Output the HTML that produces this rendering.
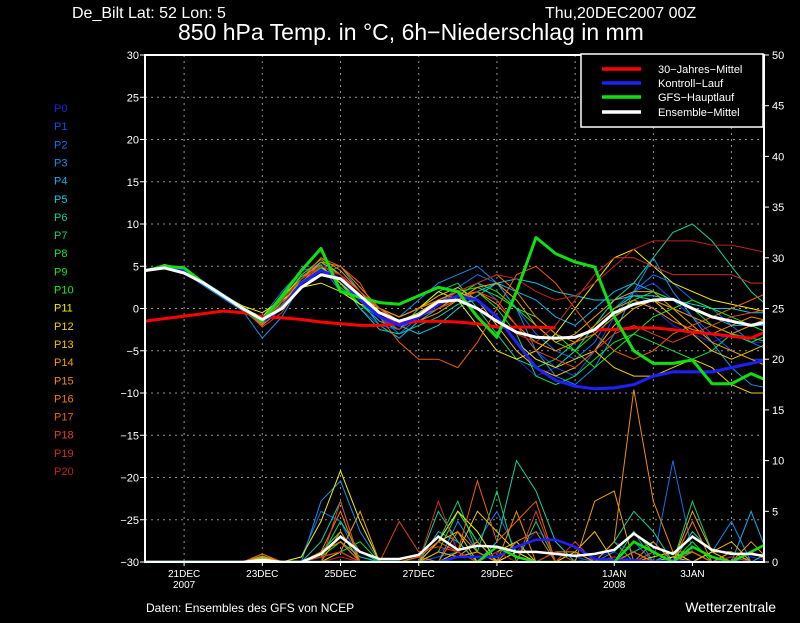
<!DOCTYPE html>
<html><head><meta charset="utf-8">
<style>
html,body{margin:0;padding:0;background:#000;}
body{width:800px;height:618px;overflow:hidden;position:relative;font-family:"Liberation Sans",sans-serif;}
svg text{font-family:"Liberation Sans",sans-serif;}
</style></head>
<body>
<svg id="chart" width="800" height="618" xmlns="http://www.w3.org/2000/svg">
<rect x="0" y="0" width="800" height="618" fill="#000"/>
<text x="72" y="18" fill="#fff" font-size="16">De_Bilt   Lat: 52 Lon: 5</text>
<text x="545" y="18" fill="#fff" font-size="16">Thu,20DEC2007 00Z</text>
<text x="178" y="40" fill="#fff" font-size="23">850 hPa Temp. in °C, 6h−Niederschlag in mm</text>
<g id="grid"></g>
<g id="series"></g>
<g id="axes"></g>
<g id="legend">
<rect x="581" y="54" width="182" height="73" fill="#000" stroke="#fff" stroke-width="1.5"/>
<g><line x1="602" y1="69" x2="641" y2="69" stroke="#ff0000" stroke-width="3.5"/><text x="658" y="73" fill="#fff" font-size="11">30−Jahres−Mittel</text></g>
<g><line x1="602" y1="83" x2="641" y2="83" stroke="#2020ff" stroke-width="3.5"/><text x="658" y="87" fill="#fff" font-size="11">Kontroll−Lauf</text></g>
<g><line x1="602" y1="97" x2="641" y2="97" stroke="#10e010" stroke-width="3.5"/><text x="658" y="101" fill="#fff" font-size="11">GFS−Hauptlauf</text></g>
<g><line x1="602" y1="112" x2="641" y2="112" stroke="#fff" stroke-width="3.5"/><text x="658" y="116" fill="#fff" font-size="11">Ensemble−Mittel</text></g>
</g>
<g id="memberlegend"></g>
<text x="146" y="612" fill="#fff" font-size="12">Daten: Ensembles des GFS von NCEP</text>
<text x="776" y="612" fill="#fff" font-size="14" text-anchor="end">Wetterzentrale</text>
</svg>
<script>
// time in days from 20DEC2007 00Z, 12h steps
const stepDays = 0.5;
const dayTicks = [1,3,5,7,9,12,14];
const dayTickLabels = ["21DEC","23DEC","25DEC","27DEC","29DEC","1JAN","3JAN"];
const dayTickYears = ["2007","","","","","2008",""];
const gridDays = [1,3,5,7,9,11,13,15];
const tempTicks = [-30,-25,-20,-15,-10,-5,0,5,10,15,20,25,30];
const precipTicks = [0,5,10,15,20,25,30,35,40,45,50];
const memberColors = ["#2020e0","#1050f0","#1070f0","#1090f0","#10b0f0","#10c8e0","#10d0a0","#10d070","#10e040","#20e020","#10f010","#f0f000","#f0d000","#f0c000","#f0a000","#f09000","#f08000","#f06000","#e04020","#d03020","#c02020"];

const members = [
[4.5,5,4.4,3,1.4,0,-1.8,0.5,3.5,5,4,1,-1.5,-2,-1,1,1.5,0,-3,-6,-8,-7,-5,-2,1,2,0,-2,-3,-4,-3,-4,-4],
[4.5,5.1,4.6,3.1,1.6,0.1,-2,1,4,5.5,3,0,-2,-2.5,-0.5,1,2,3,1,-2,-5,-7,-8,-5,-1,2,3,1,-1,-3,-5,-6,-6],
[4.5,4.9,4.5,2.8,1.3,-0.2,-1,2,4.5,5,2,0.5,-1,-3,-1,0.5,2.5,4,3,0,-3,-5,-6,-4,0,2,4,3,1,0,-2,-4,-5],
[4.5,5,4.3,2.7,1.2,-0.3,-3.5,-1,3,4,5,2,0,-1,1,3,4,5,3,0,-5,-8,-9,-7,-3,2,6,2,-1,-4,-7,-9,-9.5],
[4.5,5.2,4.7,3.2,1.7,0.2,-1.2,0.5,3,4.5,3.5,1,-2,-3.5,-1.5,0,1,2,3,2,1,-1,-2,0,2,3,2,1,0,-1,-2,-2,-2],
[4.5,5,4.5,3,1.5,0,-1.5,1,3.5,5,4,1.5,-0.5,-2,-3,-2,0,1.5,3,3.5,3,2,1.5,1,1,1.5,1.5,1,0.5,0,0,-0.5,-0.5],
[4.5,5.1,4.6,3,1.4,-0.1,-1.7,0.3,3,4.5,3,0,-2.5,-3,-2,-1,0.5,1,-1,-4,-6,-7,-5,-2,1,3,6,9,10,8,5,2,0],
[4.5,5,4.4,2.9,1.5,0,-1.4,1.2,3.8,5.2,2.5,0.5,-1.5,-2.5,0,2,3,0,-3,-6,-7,-6,-4,-2,0,1.5,1,0,-1,-2,-3,-3.5,-4],
[4.5,5.1,4.5,3.1,1.5,0,-1.6,0.8,3.2,4.8,3.5,1,-1,-2,-1,0,1,2,0,-3,-8,-9,-8,-6,-4,-3,-4,-5,-6,-5,-3,-2,-1],
[4.5,5,4.6,3,1.6,0.1,-1.4,1,4,5.8,4,1,-1,-2,-1,0.5,2,2.5,1.5,0,-2,-4,-5,-3,-1,1,2,1,0,-2,-3,-4,-3],
[4.5,5,4.5,3,1.5,0,-1.5,0.5,3,5,3,0.5,-1,-2,-1,0,1.5,3,2,0,-1,-3,-5,-7,-5,-3,-1,0,1,0,-1,-2,-3],
[4.5,5.2,4.7,3.1,1.6,0.3,-0.5,1,2.5,3,2,0.5,0,-1,0,2,1,-2,-5,-6,-5,-3,0,3,6,7,5,3,2,1,0.5,0,-0.5],
[4.5,5,4.5,3,1.5,0,-1,1.5,3.5,5,3,1,-0.5,-1.5,-0.5,1,2,1,-1,-4,-6,-7,-6,-5,-7,-8,-8,-7,-6,-7,-9,-10,-10],
[4.5,5,4.4,2.9,1.4,-0.1,-1.6,0.5,3,4.5,3.5,1.5,0,-1,0,1.5,2.5,1,-2,-5,-7,-8,-7,-5,-2,0,1,-1,-3,-5,-6,-5,-4],
[4.5,5.1,4.6,3,1.5,0,-1.3,1,3.5,5.5,4,2,-0.5,-2,-1.5,-0.5,1,2.5,3,1,-2,-4,-3,-1,1,2,2,0,-2,-4,-5,-6,-7],
[4.5,5,4.5,3,1.5,0,-1.8,0.5,3.5,6,4.5,2,0,-1.5,-1,0,1.5,2,0.5,-2,-4,-5,-4,-2,0,1,0,-1.5,-2.5,-3,-2,-1,-1.5],
[4.5,5,4.5,2.9,1.4,-0.2,-2,0,3,5.5,5,2.5,0,-1,0,1,2,3,4,2,-1,-3,-4,-3,-1,0.5,1,0,-1,-2,-3,-2,-1],
[4.5,5,4.5,3,1.5,0,-1.5,1,3.5,6,5,3,-1,-4,-6,-6,-7,-4,0,4,5,3,0,-3,-5,-6,-5,-3,-2,-1,0,1,2],
[4.5,5.1,4.6,3,1.5,0,-2.2,-0.5,3,5,4,2,0,-2,-1,0,1,2,1,-2,-5,-6,-7,-5,-3,-2,-3,-4,-3,-2,-1,-0.5,0],
[4.5,5,4.5,3,1.5,0,-1.5,1,3.5,5,4,1.5,-1,-2.5,-1,0.5,1.5,1,-1,-3,-4,-2,1,4,6,6,5,4,4,4,4,3,3],
[4.5,5,4.5,3,1.5,0,-1.5,0.5,3,4.5,4,1.5,-0.5,-2,-1,0.5,2,3,4,3.5,2,1,1.5,3,5,7,8,8,8,7.5,7.5,7,6.5]
];
const controlRun = [4.5,5,4.5,3,1.5,0,-1.5,0,3,4.5,3.5,1,-1,-2,-1,0.5,1.5,1,-1,-4,-7,-8.5,-9.2,-9.5,-9.4,-9,-8,-7.5,-7.5,-7.5,-7,-6.5,-6];
const gfsRun = [4.5,5,4.8,3,1.5,0,-1.5,1.5,4.5,7.1,2,1.3,0.7,0.5,1.5,2.5,2,-1,-3.4,2,8.4,6.5,5.5,4.9,-1,-5,-6.5,-6.5,-6.1,-8.9,-8.9,-7.7,-8.7];
const ensMean = [4.5,4.8,4.2,3,1.5,0,-1.3,0,2.5,4,3.5,1.5,-0.5,-1.5,-0.8,0.8,1,0,-1.5,-2.8,-3.4,-3.5,-3.4,-2.5,-0.5,0.5,1,1.1,0,-1,-1.5,-2,-1.5];
const climate = [-1.5,-1.2,-0.9,-0.6,-0.3,-0.5,-1,-1.1,-1.3,-1.6,-1.8,-2,-2,-1.8,-1.5,-1.5,-1.6,-1.8,-2.2,-2.2,-2.2,-2.3,null,-2.5,-2.5,-2.3,-2.3,-2.5,-2.8,-3,-3.3,-3.5,-2.5];

const memberPrecip = [
[0,0,0,0,0,0,0,0,0,0.5,1,0,0,0,0,1,2,0,0,1,3,2,0,0.5,1,0,0,0.5,0,0,0,0.5,0],
[0,0,0,0,0,0,0.5,0,0,1,3,0,0,0,0,0.5,1,2,0,0,0,1,0.5,0,2,1,0,1,0,0,0.5,0,0],
[0,0,0,0,0,0,0,0,0.5,5,4,0,0,0,0,2,5,2,5,1,0,0,0,0,0,2,0,10,1,0,0,0,0],
[0,0,0,0,0,0,0.8,0,0,6,8,3,0,0,0,0,4,1,0,0,0,0,0,0,1,3,0,0,0,1,4,0,0],
[0,0,0,0,0,0,0.3,0,0,0.5,1,0,0,0,0,1,0.5,1,0,0,0,0,0,0,0,0,0,1,0,0,0,5,0],
[0,0,0,0,0,0,0,0,0,1,2,0.5,0,0,0,3,2,0,0,0,0,1,0,0,0,0,0,0.5,1,0,0,0,0],
[0,0,0,0,0,0,0,0,0,2,6,0,0,0,0,5,2,0,2,10,7,2,0,0,2,5,3,0,3,1,0,0,1],
[0,0,0,0,0,0,0.5,0,0,0.5,4,1,0,0,0,2,6,1,7,0,4,0,0,0,0,1,2,0,6,1,0,0,0],
[0,0,0,0,0,0,0,0,0,1,3,0,0,0,0,0,1,0,0,0,0,0,1,0,2,0,1,0,0,0,0,0,0],
[0,0,0,0,0,0,0,0,0,0,1,2,0,0,0,1,5,2,0,0,0,0,0,0,0,3,1,0,1,0,0,0,0],
[0,0,0,0,0,0,0.3,0,0,0.5,2,0,0,0,0,0,0.5,1,0,0,0,0,0,0,0,1,0,0,2,0,0,0,0],
[0,0,0,0,0,0,0,0,0.5,4,9,4,0,0,0.5,2,5,3,0,1,0,0,0,0,0,0,0,0.5,0,1,1,0,0],
[0,0,0,0,0,0,0,0,0,0,1,0,0,0,0,2,3,0,1,2,0,0,0,0,0,0,0.5,1,0,0,1,0,0],
[0,0,0,0,0,0,0.4,0,0,1,2,0,0,0,0,0,1,5,3,1,0,0,1,3,0,1,0,0,0,1,2,0,0],
[0,0,0,0,0,0,0,0,0,0.5,1,5,0,0,0,1,0.5,2,0,0,0,0,0,6,7,0,1,0,5,1,0,2,0],
[0,0,0,0,0,0,0.6,0,0,0,3,0,0,0,0,0,0.5,1,0,5,0,1,1,0,2,17,6,1,1,0,1,0,0],
[0,0,0,0,0,0,0,0,0,1,5,0,0,0,0.5,0,3,1,0,2,3,0,0,0,0,0,2,0,4,0,0,1,0],
[0,0,0,0,0,0,0.8,0,0,1,2,0,0,0,0.5,2,1,8,2,4,6,0,0,0,0,1,0,0,1,0,0,0,0],
[0,0,0,0,0,0,0,0,0,0,6,0,0,4,1,1.5,1,0,0,0,5,0,2,0,0,0,1,0,0,0,0,0,0],
[0,0,0,0,0,0,0,0,0,0.5,1,0,0,0,0,6,1,0,0,0,0,1,0,0,0.5,0,0,0,0,0,0.5,0,0],
[0,0,0,0,0,0,0,0,0,0,0.5,0,0,0,0,0,0,0,1,0,0,0,0,0,0,0,0,0,0,0,0,0,0]
];
const controlPrecip = [0,0,0,0,0,0,0,0,0,0,0,0,0,0,0,0,0.5,0.5,0.5,1.5,2.2,2.2,1.5,0.3,0.2,0.2,0,0.2,0,0,0,0,0];
const gfsPrecip = [0,0,0,0,0,0,0.2,0,0,0,0,0,0,0,0,0,0,0,1.5,0.5,0,0,0,0,0,2,1,0,1.5,0.5,0,1,2];
const meanPrecip = [0,0,0,0,0,0,0.2,0,0,0.8,2.5,1,0.3,0.3,0.7,2.5,1.2,1.6,1.5,1,1,0.8,0.6,0.8,1.2,2.8,1.5,0.8,2.5,1.2,0.8,0.8,0.5];

const X0 = 145, X1 = 764, Y0 = 55, Y1 = 562;
const dayMax = 15.83;
function xs(d){ return X0 + d/dayMax*(X1-X0); }
function yt(v){ return Y1 - (v+30)/60*(Y1-Y0); }
function yp(v){ return Y1 - v/50*(Y1-Y0); }
const NS = "http://www.w3.org/2000/svg";
function mk(tag, parent, attrs){
  const e = document.createElementNS(NS, tag);
  for (const k in attrs) e.setAttribute(k, attrs[k]);
  parent.appendChild(e); return e;
}
const grid = document.getElementById('grid');
const series = document.getElementById('series');
const axes = document.getElementById('axes');
const mleg = document.getElementById('memberlegend');

const defs = mk('defs', document.getElementById('chart'), {});
const cp = mk('clipPath', defs, {id:'plotclip'});
mk('rect', cp, {x:X0, y:Y0, width:X1-X0, height:Y1-Y0});
series.setAttribute('clip-path','url(#plotclip)');

tempTicks.forEach(t=>{
  if (t===-30||t===30) return;
  const l = mk('line', grid, {x1:X0,x2:X1,y1:yt(t),y2:yt(t),stroke:'#909090','stroke-dasharray':'2,4','stroke-width':1});
  
  
});
gridDays.forEach(d=>{
  const l = mk('line', grid, {x1:xs(d),x2:xs(d),y1:Y0,y2:Y1,stroke:'#909090','stroke-dasharray':'2,4','stroke-width':1});
  
  
});

function pathOf(arr, yf){
  let d = '', pen = false;
  arr.forEach((v,i)=>{
    if (v===null){ pen=false; return; }
    d += (pen?'L':'M') + xs(i*stepDays).toFixed(1) + ' ' + yf(v).toFixed(1) + ' ';
    pen = true;
  });
  return d;
}
memberPrecip.forEach((arr,i)=>{
  const p = mk('path', series, {d:pathOf(arr,yp), fill:'none', stroke:memberColors[i], 'stroke-width':1});
  
  
});
members.forEach((arr,i)=>{
  const p = mk('path', series, {d:pathOf(arr,yt), fill:'none', stroke:memberColors[i], 'stroke-width':1});
  
  
});
[[controlPrecip,'#2020ff','precip-control'],[gfsPrecip,'#10e010','precip-gfs'],[meanPrecip,'#ffffff','precip-mean']].forEach(s=>{
  const p = mk('path', series, {d:pathOf(s[0],yp), fill:'none', stroke:s[1], 'stroke-width':2.5});
  
  
});
[[climate,'#ff0000','temp-climate-mean'],[controlRun,'#2020ff','temp-control-run'],[gfsRun,'#10e010','temp-gfs-run'],[ensMean,'#ffffff','temp-ensemble-mean']].forEach(s=>{
  const p = mk('path', series, {d:pathOf(s[0],yt), fill:'none', stroke:s[1], 'stroke-width':3,'stroke-linejoin':'round'});
  
  
});

const fr = mk('rect', axes, {x:X0,y:Y0,width:X1-X0,height:Y1-Y0,fill:'none',stroke:'#fff','stroke-width':2});


tempTicks.forEach(t=>{
  mk('line', axes, {x1:X0-5,x2:X0,y1:yt(t),y2:yt(t),stroke:'#fff','stroke-width':1});
  const tx = mk('text', axes, {x:X0-6,y:yt(t)+4,fill:'#fff','font-size':11,'text-anchor':'end'});
  tx.textContent = t===0?'0':(t<0?'−'+(-t):String(t));
  
  
});
precipTicks.forEach(t=>{
  mk('line', axes, {x1:X1,x2:X1+5,y1:yp(t),y2:yp(t),stroke:'#fff','stroke-width':1});
  const tx = mk('text', axes, {x:X1+8,y:yp(t)+4,fill:'#fff','font-size':11});
  tx.textContent = String(t);
  
  
});
dayTicks.forEach((d,i)=>{
  mk('line', axes, {x1:xs(d),x2:xs(d),y1:Y1,y2:Y1+4,stroke:'#fff','stroke-width':1});
  const tx = mk('text', axes, {x:xs(d),y:577,fill:'#fff','font-size':10,'text-anchor':'middle'});
  tx.textContent = dayTickLabels[i];
  
  
  if (dayTickYears[i]){
    const ty = mk('text', axes, {x:xs(d),y:588,fill:'#fff','font-size':10,'text-anchor':'middle'});
    ty.textContent = dayTickYears[i];
    
    
  }
});
memberColors.forEach((c,i)=>{
  const tx = mk('text', mleg, {x:54,y:112+i*18.15,fill:c,'font-size':11});
  tx.textContent = 'P'+i;
  
  
});
</script>
</body></html>
